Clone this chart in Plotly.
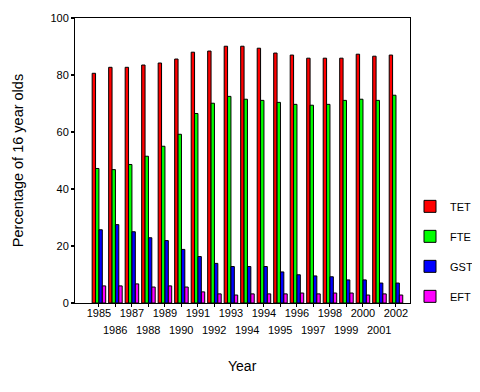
import plotly.graph_objects as go

years = ["1985", "1986", "1987", "1988", "1989", "1990", "1991", "1992", "1993", "1994",
         "1994", "1995", "1996", "1997", "1998", "1999", "2000", "2001", "2002"]
tet = [80.6, 82.7, 82.7, 83.5, 84.2, 85.6, 88.0, 88.4, 90.1, 90.1,
       89.4, 87.7, 87.0, 85.9, 85.9, 85.9, 87.3, 86.6, 87.0]
fte = [47.2, 46.8, 48.6, 51.5, 55.0, 59.2, 66.5, 70.1, 72.5, 71.5,
       71.1, 70.4, 69.7, 69.4, 69.7, 71.1, 71.5, 71.1, 72.9]
gst = [25.7, 27.5, 25.0, 22.9, 21.9, 18.8, 16.3, 13.9, 12.8, 12.8,
       12.8, 10.9, 9.9, 9.5, 9.2, 8.1, 8.1, 7.0, 7.0]
eft = [6.0, 6.0, 6.7, 5.6, 6.0, 5.6, 3.9, 3.2, 2.8, 3.2,
       3.2, 3.2, 3.5, 3.2, 3.5, 3.5, 2.8, 3.2, 2.8]

series = [("TET", tet, "#FF0000"), ("FTE", fte, "#00FF00"),
          ("GST", gst, "#0000FF"), ("EFT", eft, "#FF00FF")]

xpos = list(range(len(years)))
fig = go.Figure()
for name, vals, col in series:
    fig.add_trace(go.Bar(x=xpos, y=vals, name=name, legendgroup=name,
                         marker=dict(color=col, line=dict(color="black", width=1))))

top_text = [y if i % 2 == 0 else "" for i, y in enumerate(years)]
annots = []
for i, y in enumerate(years):
    if i % 2 == 1:
        annots.append(dict(x=i, y=0, xref="x", yref="paper", text=y, showarrow=False,
                           yanchor="top", yshift=-19, font=dict(size=11, color="black")))
annots.append(dict(x=0.5, y=0, xref="paper", yref="paper", text="Year", showarrow=False,
                   yanchor="top", yshift=-53, font=dict(size=14, color="black")))

# page body has an 8px margin, so the figure is drawn 8px smaller and offset
fig.update_layout(
    width=472, height=384,
    margin=dict(l=67, r=70, t=10, b=89, autoexpand=False),
    paper_bgcolor="white", plot_bgcolor="white",
    font=dict(family="Liberation Sans, Arial, sans-serif", size=11, color="black"),
    barmode="group", bargap=0.18, bargroupgap=0,
    showlegend=True,
    legend=dict(x=1.0, xanchor="left", y=0.39, yanchor="top",
                tracegroupgap=11, font=dict(size=11), bgcolor="rgba(0,0,0,0)"),
    annotations=annots,
    xaxis=dict(tickmode="array", tickvals=xpos, ticktext=top_text, range=[-1.45, 18.85],
               showline=True, linecolor="black", linewidth=1, mirror=True, automargin=False,
               ticks="outside", ticklen=3, tickcolor="black", showgrid=False,
               ticklabelstandoff=-3, tickangle=0, tickfont=dict(size=11)),
    yaxis=dict(range=[0, 100], tickvals=[0, 20, 40, 60, 80, 100], automargin=False,
               showline=True, linecolor="black", linewidth=1, mirror=True,
               ticks="outside", ticklen=3, tickwidth=2, tickcolor="black", showgrid=False,
               zeroline=False, tickfont=dict(size=11),
               title=dict(text="Percentage of 16 year olds", font=dict(size=14.5), standoff=23)),
)

fig.write_html("out.html")
